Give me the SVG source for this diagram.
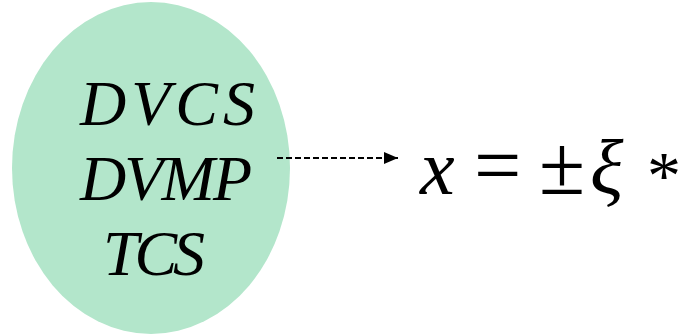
<svg xmlns="http://www.w3.org/2000/svg" width="685" height="336" viewBox="0 0 685 336">
<defs>
<style>
.lbl{font-family:"Liberation Serif","DejaVu Serif",serif;font-style:italic;font-size:64px;fill:#000}
.m{font-family:"Liberation Serif","DejaVu Serif",serif;font-size:84px;fill:#000}
.it{font-style:italic;font-size:78px}
.ast{font-size:68px}
.conn{stroke:#000;stroke-width:2;stroke-dasharray:6 3;fill:none}
</style>
<marker id="ah" markerWidth="14" markerHeight="12" refX="14" refY="6" orient="auto" markerUnits="userSpaceOnUse">
<path d="M0,0 L14,6 L0,12 Z" fill="#000"/>
</marker>
</defs>
<g id="node-processes">
<ellipse cx="151" cy="168" rx="139" ry="166" fill="#b3e6cb"/>
<text class="lbl" x="80" y="125" textLength="175" lengthAdjust="spacing">DVCS</text>
<text class="lbl" x="80" y="200" textLength="172" lengthAdjust="spacing">DVMP</text>
<text class="lbl" x="103" y="275" textLength="102" lengthAdjust="spacing">TCS</text>
</g>
<g id="connectors">
<line class="conn" x1="277" y1="158" x2="398" y2="158" marker-end="url(#ah)"/>
</g>
<g id="node-formula">
<text class="m it" x="420" y="194">x</text>
<text class="m" x="474" y="194">=</text>
<text class="m" x="539" y="194">±</text>
<text class="m it" x="590" y="194">ξ</text>
<text class="m ast" x="647" y="198">*</text>
</g>
</svg>
